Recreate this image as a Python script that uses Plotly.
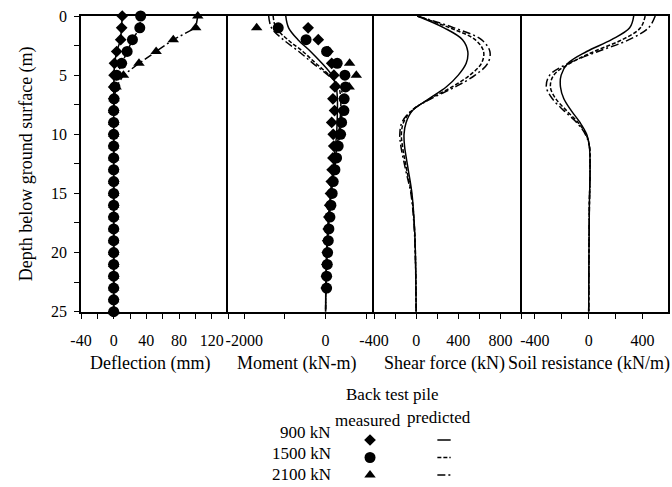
import plotly.graph_objects as go

# ---------------- data ----------------
loads = ["900 kN", "1500 kN", "2100 kN"]

# Deflection (mm), measured every 1 m
depth_defl = [0, 1, 2, 3, 4, 5, 6, 7, 8, 9, 10, 11, 12, 13, 14, 15, 16, 17, 18, 19, 20, 21, 22, 23, 24, 25]
defl_900 = [10.5, 9.8, 8.6, 3.7, 1.0, 0.5, 0, 0, 0, 0, 0, 0, 0, 0, 0, 0, 0, 0, 0, 0, 0, 0, 0, 0, 0, 0]
defl_1500 = [33, 32, 23, 16.5, 9.8, 3.7, 1.6, 0.5, 0, 0, 0, 0, 0, 0, 0, 0, 0, 0, 0, 0, 0, 0, 0, 0, 0, 0]
defl_2100 = [103, 100.5, 73, 52, 31, 12, 3, 0.5, 0, 0, 0, 0, 0, 0, 0, 0, 0, 0, 0, 0, 0, 0, 0, 0, 0, 0]

# Moment (kN-m), measured
mom_depth = [1, 2, 3, 4, 5, 6, 7, 8, 9, 10, 11, 12, 13, 14, 15, 16, 17, 18, 19, 20, 21, 22, 23]
mom_900 = [-430, -180, 60, 150, 204, 230, 180, 220, 150, 187, 200, 180, 160, 140, 120, 100, 80, 65, 50, 40, 30, 20, 15]
mom_1500 = [-1165, -480, 25, 285, 474, 490, 457, 450, 393, 369, 310, 270, 229, 187, 162, 130, 106, 81, 65, 49, 40, 25, 25]
mom_depth_2100 = [1, 4, 5, 6]
mom_2100 = [-1695, 590, 755, 580]

# Predicted profiles
pred_depth = [0, 1, 2, 3, 4, 5, 6, 7, 8, 10, 12, 14, 17, 20, 23, 25]
pmom_900 = [-980, -910, -680, -370, -90, 150, 260, 290, 290, 270, 210, 150, 70, 25, 5, 0]
pmom_1500 = [-1290, -1220, -930, -560, -240, 90, 320, 370, 370, 320, 240, 170, 85, 30, 8, 0]
pmom_2100 = [-1400, -1330, -1040, -660, -310, 60, 360, 420, 410, 350, 260, 180, 90, 35, 10, 0]

shear_depth = [0, 1, 2, 3, 4, 5, 6, 7, 8, 9, 10, 11, 13, 15, 18, 21, 25]
shear_900 = [10, 265, 440, 490, 475, 400, 285, 120, -35, -95, -115, -110, -75, -40, -15, -5, 0]
shear_1500 = [10, 320, 560, 640, 620, 510, 340, 130, -40, -120, -140, -130, -90, -45, -15, -5, 0]
shear_2100 = [10, 360, 620, 700, 680, 560, 370, 140, -45, -135, -155, -145, -100, -50, -18, -6, 0]

soil_depth = [0, 1, 2, 3, 4, 5, 6, 7, 8, 9, 10, 11, 13, 16, 20, 25]
soil_900 = [335, 305, 170, -15, -155, -205, -210, -185, -130, -65, -15, 5, 10, 5, 2, 0]
soil_1500 = [420, 385, 250, 40, -140, -260, -285, -245, -165, -80, -20, 5, 10, 5, 2, 0]
soil_2100 = [495, 445, 300, 70, -150, -290, -315, -270, -185, -90, -25, 5, 10, 5, 2, 0]

# tick labels
defl_ticks = [-40, 0, 40, 80, 120]
mom_ticks = [-2000, 0]
shear_ticks = [-400, 0, 400, 800]
soil_ticks = [-400, 0, 400]
depth_ticks = [0, 5, 10, 15, 20, 25]

# ---------------- styling ----------------
FONT = "Liberation Serif"
W, H = 672, 487
ML, MR, MT, MB = 81, 4, 16, 4
PW, PH = W - ML - MR, H - MT - MB


def fx(px):
    return (px - ML) / PW


def fy(py):
    return (H - MB - py) / PH


markers = ["diamond", "circle", "triangle-up"]
msizes = [9, 11, 10]
dashes = ["solid", "4px,2px", "8px,3px,2px,3px"]
LW = 1.5

fig = go.Figure()

ydom = [fy(311.7), 1.0]
bounds = [81, 228, 374, 521.5, 668]
xdoms = [[fx(bounds[i]), fx(bounds[i + 1])] for i in range(4)]

# Panel 1: deflection
for vals, i in [(defl_2100, 2), (defl_1500, 1), (defl_900, 0)]:
    fig.add_trace(go.Scatter(x=vals, y=depth_defl, mode="lines+markers",
                             line=dict(color="black", width=LW, dash=dashes[i]),
                             marker=dict(symbol=markers[i], size=msizes[i], color="black"),
                             xaxis="x", yaxis="y", showlegend=False, cliponaxis=False))

# Panel 2: moment
for vals, i in [(pmom_900, 0), (pmom_1500, 1), (pmom_2100, 2)]:
    fig.add_trace(go.Scatter(x=vals, y=pred_depth, mode="lines",
                             line=dict(color="black", width=LW, dash=dashes[i], shape="spline"),
                             xaxis="x2", yaxis="y2", showlegend=False))
for vals, dep, i in [(mom_2100, mom_depth_2100, 2), (mom_1500, mom_depth, 1), (mom_900, mom_depth, 0)]:
    fig.add_trace(go.Scatter(x=vals, y=dep, mode="markers",
                             marker=dict(symbol=markers[i], size=msizes[i], color="black"),
                             xaxis="x2", yaxis="y2", showlegend=False))

# Panel 3: shear
for vals, i in [(shear_900, 0), (shear_1500, 1), (shear_2100, 2)]:
    fig.add_trace(go.Scatter(x=vals, y=shear_depth, mode="lines",
                             line=dict(color="black", width=LW, dash=dashes[i], shape="spline"),
                             xaxis="x3", yaxis="y3", showlegend=False))

# Panel 4: soil resistance
for vals, i in [(soil_900, 0), (soil_1500, 1), (soil_2100, 2)]:
    fig.add_trace(go.Scatter(x=vals, y=soil_depth, mode="lines",
                             line=dict(color="black", width=LW, dash=dashes[i], shape="spline"),
                             xaxis="x4", yaxis="y4", showlegend=False))

# Legend key (its own small axis)
for i, name in enumerate(loads):
    fig.add_trace(go.Scatter(x=[0], y=[i], mode="markers",
                             marker=dict(symbol=markers[i], size=msizes[i], color="black"),
                             xaxis="x5", yaxis="y5", showlegend=False, name=name))
    fig.add_trace(go.Scatter(x=[0.91, 1.09], y=[i, i], mode="lines",
                             line=dict(color="black", width=LW, dash=dashes[i]),
                             xaxis="x5", yaxis="y5", showlegend=False, name=name))

tick_font = dict(family=FONT, size=16, color="black")
axis_common = dict(showline=True, linecolor="black", linewidth=LW, automargin=False,
                   showgrid=False, zeroline=False, tickcolor="black", tickwidth=1.2,
                   tickfont=tick_font)

xranges = [[-40, 140], [-2400, 1190], [-400, 1000], [-500, 590]]
xtickv = [defl_ticks, mom_ticks, shear_ticks, soil_ticks]
xminor = [20, 1000, 200, 200]
for k in range(4):
    name = "xaxis" if k == 0 else f"xaxis{k+1}"
    fig.layout[name] = dict(axis_common, mirror=True, domain=xdoms[k], range=xranges[k],
                            anchor="y" if k == 0 else f"y{k+1}",
                            ticks="outside", ticklen=6, tickmode="array",
                            tickvals=xtickv[k], ticktext=[str(v) for v in xtickv[k]],
                            minor=dict(dtick=xminor[k], tick0=0, ticks="outside", ticklen=6,
                                       tickcolor="black", tickwidth=1.2),
                            ticklabelstandoff=7)
    yname = "yaxis" if k == 0 else f"yaxis{k+1}"
    if k == 0:
        fig.layout[yname] = dict(axis_common, mirror=False, domain=ydom, range=[25, 0], anchor="x",
                                 ticks="outside", ticklen=5, tickmode="array",
                                 tickvals=depth_ticks, ticktext=[str(v) for v in depth_ticks],
                                 minor=dict(dtick=2.5, tick0=0, ticks="outside", ticklen=5,
                                            tickcolor="black", tickwidth=1.2),
                                 ticklabelstandoff=4,
                                 title=dict(text="Depth below ground surface (m)", standoff=14,
                                            font=dict(family=FONT, size=18, color="black")))
    else:
        fig.layout[yname] = dict(axis_common, mirror=(k == 3), domain=ydom, range=[25, 0],
                                 anchor=f"x{k+1}", ticks="", showticklabels=False)

fig.layout["xaxis5"] = dict(domain=[fx(330), fx(470)], range=[-0.5405, 1.351], anchor="y5",
                            visible=False, automargin=False)
fig.layout["yaxis5"] = dict(domain=[0, fy(431)], range=[2.457, -0.514], anchor="x5",
                            visible=False, automargin=False)

tfont = dict(family=FONT, size=18, color="black")
lfont = dict(family=FONT, size=17, color="black")
annots = []
for txt, px in [("Deflection (mm)", 150), ("Moment (kN-m)", 296), ("Shear force (kN)", 444),
                ("Soil resistance (kN/m)", 589)]:
    annots.append(dict(text=txt, x=fx(px), y=fy(363), xref="paper", yref="paper",
                       showarrow=False, xanchor="center", yanchor="middle", font=tfont))
annots.append(dict(text="Back test pile", x=fx(392), y=fy(394), xref="paper", yref="paper",
                   showarrow=False, xanchor="center", yanchor="middle", font=lfont))
annots.append(dict(text="measured", x=fx(368), y=fy(420), xref="paper", yref="paper",
                   showarrow=False, xanchor="center", yanchor="middle", font=lfont))
annots.append(dict(text="predicted", x=fx(439), y=fy(417), xref="paper", yref="paper",
                   showarrow=False, xanchor="center", yanchor="middle", font=lfont))
for name, py in zip(loads, [432, 453, 474]):
    annots.append(dict(text=name, x=fx(333), y=fy(py), xref="paper", yref="paper",
                       showarrow=False, xanchor="right", yanchor="middle", font=lfont))

fig.update_layout(width=W, height=H, margin=dict(l=ML, r=MR, t=MT, b=MB, autoexpand=False),
                  paper_bgcolor="white", plot_bgcolor="white",
                  font=dict(family=FONT, color="black"),
                  annotations=annots, showlegend=False)

fig.write_html("out.html")
